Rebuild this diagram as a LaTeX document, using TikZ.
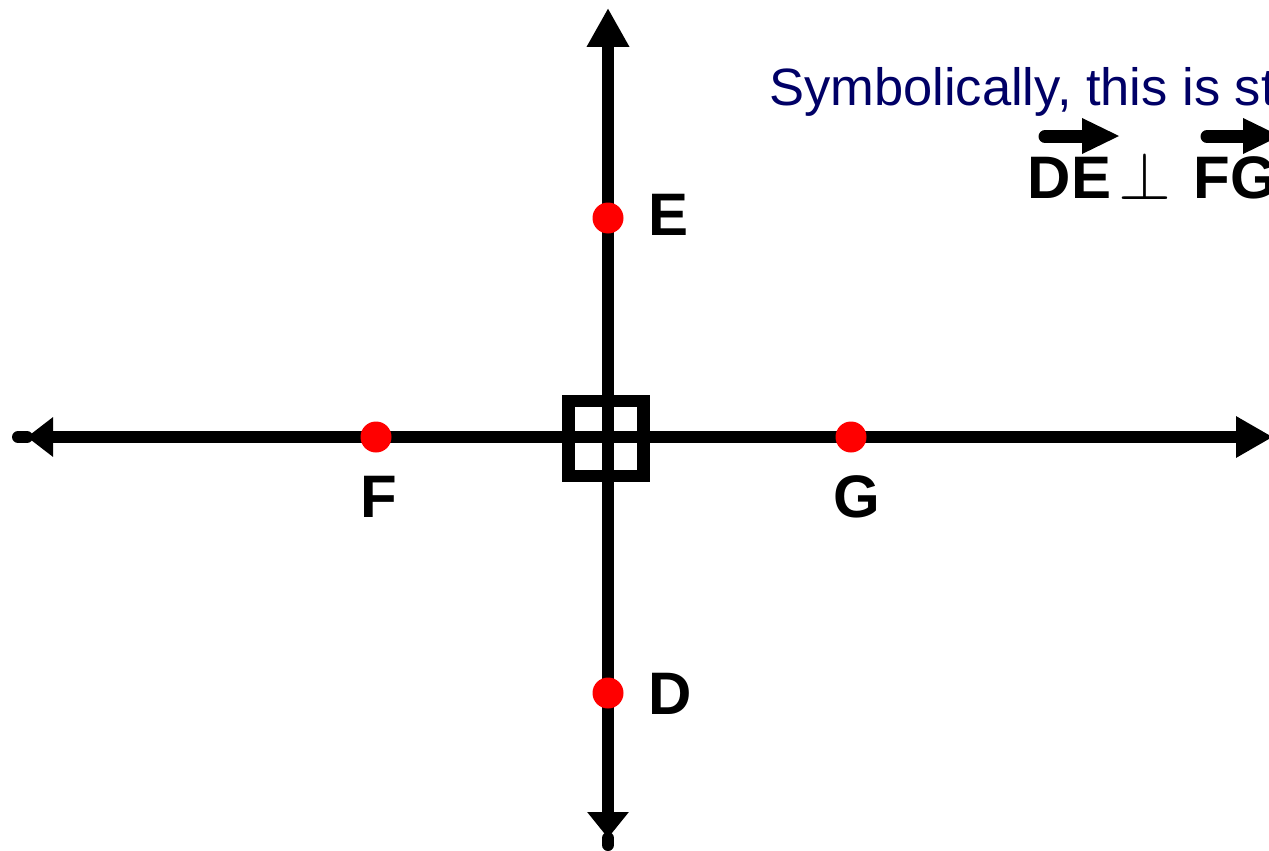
\documentclass[tikz,border=0pt]{standalone}
\usepackage{fontspec}
\setmainfont{Liberation Sans}
\usetikzlibrary{arrows.meta}
\definecolor{navy}{RGB}{0,0,102}
\begin{document}
\begin{tikzpicture}[x=1pt,y=-1pt,
  axis/.style={line width=12pt},
  dot/.style={circle, fill=red, minimum size=31pt, inner sep=0pt},
  lbl/.style={font=\fontsize{60}{60}\selectfont\bfseries, inner sep=0pt},
  headfill/.style={fill=black},
  ovbar/.style={line width=13pt, line cap=round},
  gap/.style={white, line width=2pt}]
\useasboundingbox (0,0) rectangle (1269,851);
\clip (0,0) rectangle (1269,851);
% axes
\coordinate (L) at (27,437);
\coordinate (Lc) at (18,437);
\coordinate (R) at (1273,437);
\coordinate (T) at (608,8);
\coordinate (B) at (608,838);
\coordinate (Bc) at (608,845);
\draw[axis,{Triangle[length=26pt,width=38pt]}-{Triangle[length=37pt,width=39pt]}] (L) -- (R);
\draw[axis,{Triangle[length=26pt,width=40pt]}-{Triangle[length=39pt,width=40pt]}] (B) -- (T);
\draw[axis,line cap=round] (L) -- (Lc);
\draw[axis,line cap=round] (B) -- (Bc);
% right-angle mark
\node[draw, line width=12.5pt, minimum size=75pt, inner sep=0pt] (sq) at (606,438.5) {};
% points
\node[dot] (E) at (608,218) {};
\node[dot] (F) at (376,437) {};
\node[dot] (G) at (851,437) {};
\node[dot] (D) at (608,693) {};
\node[lbl] (lE) at (669,215) {E};
\node[lbl] (lF) at (379,497) {F};
\node[lbl] (lG) at (857,497) {G};
\node[lbl] (lD) at (670,694) {D};
% statement
\node[anchor=base west, inner sep=0pt, text=navy, font=\fontsize{52.5}{52.5}\selectfont] (title) at (769,105) {Symbolically, this is st};
\node[lbl, anchor=base west] (DE) at (1027.5,198) {DE};
\node[anchor=base west, inner sep=0pt] (perp) at (1118,199) {\scalebox{6.8}{$\perp$}};
\node[lbl, anchor=base west] (FG) at (1193.5,198) {FG};
% overline arrows
\fill[headfill] (1080,117) -- (1119,136) -- (1080,155) -- cycle;
\draw[gap] (1081,117) -- (1081,155);
\draw[ovbar] (1045,136.5) -- (1088,136.5);
\fill[headfill] (1241,117) -- (1280,136) -- (1241,155) -- cycle;
\draw[gap] (1242,117) -- (1242,155);
\draw[ovbar] (1207,136.5) -- (1249,136.5);
\end{tikzpicture}
\end{document}
